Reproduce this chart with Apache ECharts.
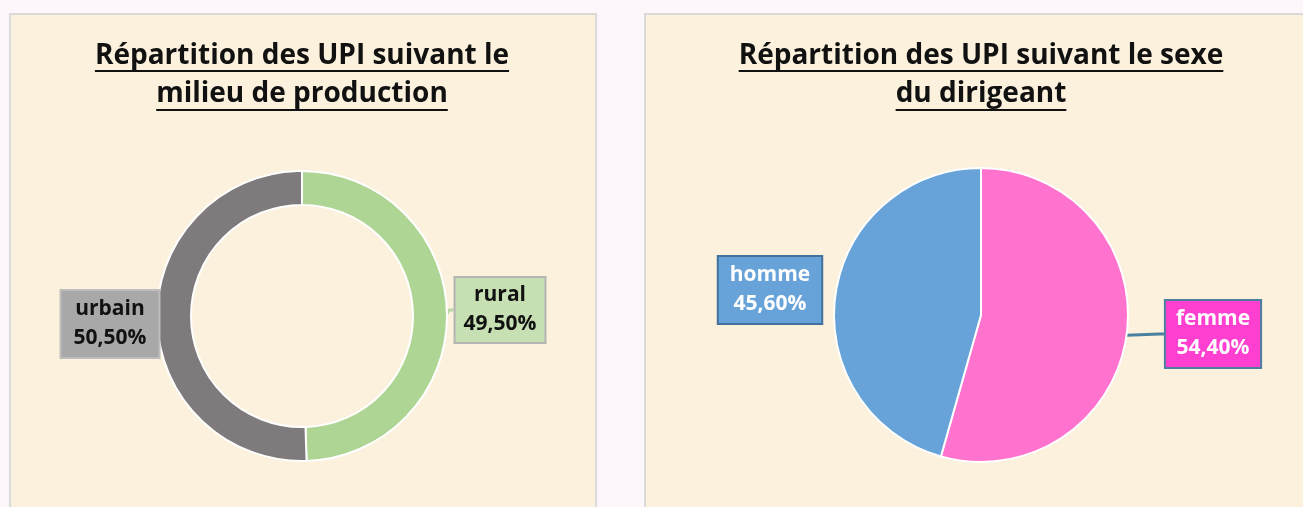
<!DOCTYPE html>
<html>
<head>
<meta charset="utf-8">
<script src="https://cdn.jsdelivr.net/npm/echarts@6/dist/echarts.min.js"></script>
<style>
html,body{margin:0;padding:0;background:#FDF6FA;}
#chart{width:1303px;height:507px;}
</style>
</head>
<body>
<div id="chart"></div>
<script>
// ---- data ----
const milieuCategories = ['rural', 'urbain'];
const milieuValues = [49.5, 50.5];
const sexeCategories = ['femme', 'homme'];
const sexeValues = [54.4, 45.6];
const titleMilieu = ['Répartition des UPI suivant le', 'milieu de production'];
const titleSexe = ['Répartition des UPI suivant le sexe', 'du dirigeant'];

// ---- styles / layout ----
const FONT = '"Open Sans", "DejaVu Sans", sans-serif';
const milieuColors = ['#AED594', '#7F7A7B'];
const sexeColors = ['#FF73CF', '#67A3D9'];
const milieuLabelStyle = [
  {bg: '#C6E0B4', border: '#B4B4B4', color: '#111', pad: [3, 8], line: '#B9D8A3'},
  {bg: '#A9A8A8', border: '#BDBDBD', color: '#111', pad: [4, 12], line: '#A9A8A8'}
];
const sexeLabelStyle = [
  {bg: '#FF3FD0', border: '#4A7FA0', color: '#fff', pad: [4, 10], line: '#4A7FA0'},
  {bg: '#67A3D9', border: '#41719C', color: '#fff', pad: [4, 11], line: null}
];
const labelCenters = [
  [[500, 310], [110, 324]],
  [[1213, 334], [770, 290]]
];

function fmt(p) {
  return p.name + '\n' + p.value.toFixed(2).replace('.', ',') + '%';
}

function buildData(cats, vals, colors, styles) {
  return cats.map((c, i) => ({
    name: c,
    value: vals[i],
    itemStyle: {color: colors[i]},
    label: {
      backgroundColor: styles[i].bg,
      borderColor: styles[i].border,
      borderWidth: 2,
      padding: styles[i].pad,
      color: styles[i].color
    },
    labelLine: styles[i].line
      ? {show: true, length: 4, length2: 4, lineStyle: {color: styles[i].line, width: 3}}
      : {show: false}
  }));
}

const measureCtx = document.createElement('canvas').getContext('2d');
function textWidth(t, size) {
  measureCtx.font = 'bold ' + size + 'px ' + FONT;
  return measureCtx.measureText(t).width;
}

const TITLE_SIZE = 28;
function titleGraphics(lines, cx) {
  const out = [];
  const mids = [56, 94];
  const unders = [70, 109];
  lines.forEach((t, i) => {
    out.push({
      type: 'text', z: 10,
      style: {
        text: t, x: cx, y: mids[i], align: 'center', verticalAlign: 'middle',
        font: 'bold ' + TITLE_SIZE + 'px ' + FONT, fill: '#111'
      }
    });
    const w = textWidth(t, TITLE_SIZE);
    out.push({
      type: 'rect', z: 10,
      shape: {x: cx - w / 2, y: unders[i], width: w, height: 2},
      style: {fill: '#111'}
    });
  });
  return out;
}

const chart = echarts.init(document.getElementById('chart'), null, {renderer: 'canvas'});

const commonLabel = {
  show: true,
  formatter: fmt,
  fontFamily: FONT,
  fontWeight: 'bold',
  fontSize: 21,
  lineHeight: 29,
  align: 'center'
};

chart.setOption({
  backgroundColor: '#FDF6FA',
  animation: false,
  graphic: [
    {type: 'rect', z: 0, shape: {x: 10, y: 14, width: 586, height: 510},
     style: {fill: '#FBF1DC', stroke: '#DADADA', lineWidth: 2}},
    {type: 'rect', z: 0, shape: {x: 645, y: 14, width: 680, height: 510},
     style: {fill: '#FBF1DC', stroke: '#DADADA', lineWidth: 2}}
  ].concat(titleGraphics(titleMilieu, 302), titleGraphics(titleSexe, 981)),
  series: [
    {
      type: 'pie',
      center: [302, 316],
      radius: [111, 145],
      startAngle: 90,
      clockwise: true,
      avoidLabelOverlap: false,
      itemStyle: {borderColor: '#FFFFFF', borderWidth: 2},
      label: commonLabel,
      labelLayout: function (p) {
        const c = labelCenters[0][p.dataIndex];
        return {x: c[0], y: c[1], align: 'center', verticalAlign: 'middle'};
      },
      data: buildData(milieuCategories, milieuValues, milieuColors, milieuLabelStyle)
    },
    {
      type: 'pie',
      center: [981, 315],
      radius: [0, 147],
      startAngle: 90,
      clockwise: true,
      avoidLabelOverlap: false,
      itemStyle: {borderColor: '#FFFFFF', borderWidth: 2},
      label: commonLabel,
      labelLayout: function (p) {
        const c = labelCenters[1][p.dataIndex];
        return {x: c[0], y: c[1], align: 'center', verticalAlign: 'middle'};
      },
      data: buildData(sexeCategories, sexeValues, sexeColors, sexeLabelStyle)
    }
  ]
});
</script>
</body>
</html>
